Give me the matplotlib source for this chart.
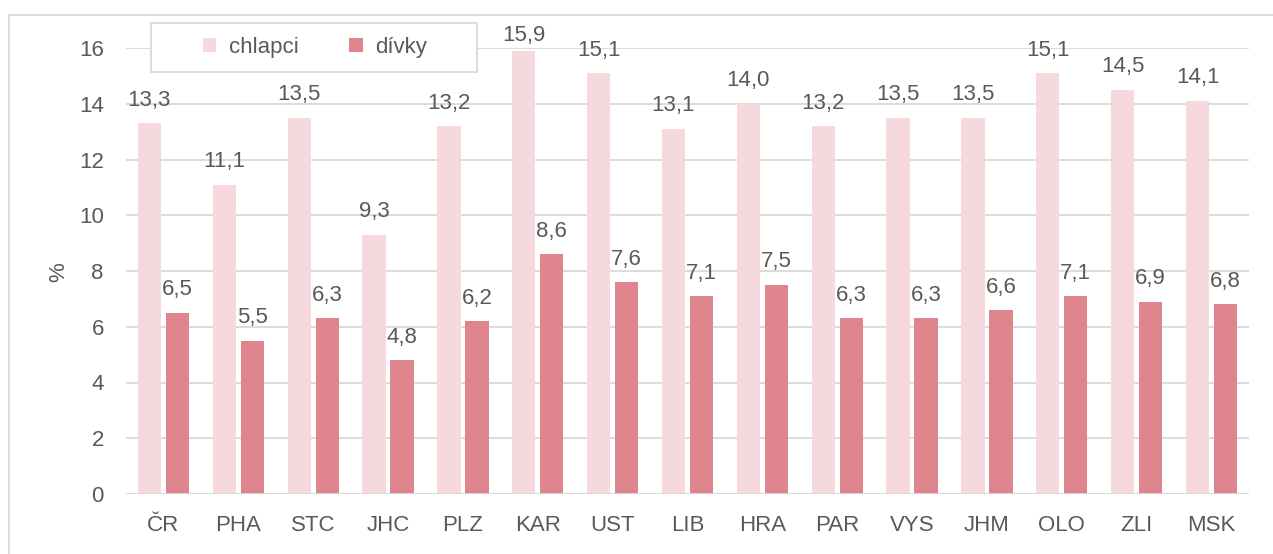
import matplotlib
matplotlib.use("Agg")
import matplotlib.pyplot as plt
import numpy as np
from matplotlib.lines import Line2D
from matplotlib.patches import Rectangle

categories = ["ČR", "PHA", "STC", "JHC", "PLZ", "KAR", "UST", "LIB", "HRA", "PAR", "VYS", "JHM", "OLO", "ZLI", "MSK"]
chlapci = [13.3, 11.1, 13.5, 9.3, 13.2, 15.9, 15.1, 13.1, 14.0, 13.2, 13.5, 13.5, 15.1, 14.5, 14.1]
divky = [6.5, 5.5, 6.3, 4.8, 6.2, 8.6, 7.6, 7.1, 7.5, 6.3, 6.3, 6.6, 7.1, 6.9, 6.8]
series_names = ["chlapci", "dívky"]
yticks = [0, 2, 4, 6, 8, 10, 12, 14, 16]

plt.rcParams['font.family'] = ['Liberation Sans', 'DejaVu Sans']
txt = "#595959"
c1 = "#F5D9DD"
c2 = "#DE848D"
grid = "#D9D9D9"
fs = 16

W, H = 1273, 554
fig = plt.figure(figsize=(W / 100, H / 100), dpi=100)
ax = fig.add_axes([126 / W, 1 - 494 / H, (1249 - 126) / W, (494 - 48) / H])

x = np.arange(len(categories))
bw = 0.31
off = 0.187
b1 = ax.bar(x - off, chlapci, bw, color=c1, label=series_names[0], zorder=3)
b2 = ax.bar(x + off, divky, bw, color=c2, label=series_names[1], zorder=3)

ax.set_xlim(-0.5, len(categories) - 0.5)
ax.set_ylim(0, 16)

labels = []
for bars, vals in ((b1, chlapci), (b2, divky)):
    for rect, v in zip(bars, vals):
        a = ax.annotate(f"{v:.1f}".replace(".", ","),
                        (rect.get_x() + rect.get_width() / 2, v),
                        xytext=(0, 9), textcoords="offset points",
                        ha="center", va="bottom", fontsize=fs, color=txt, zorder=5)
        labels.append(a)

ax.set_yticks(yticks)
ax.set_yticklabels([str(t) for t in yticks])
ax.set_xticks(x)
ax.set_xticklabels(categories)
ax.tick_params(axis="both", length=0, labelsize=fs, colors=txt)
ax.tick_params(axis="y", pad=16)
ax.tick_params(axis="x", pad=15)
ax.yaxis.grid(True, color=grid, linewidth=1.3, zorder=0)
ax.set_axisbelow(True)
for s in ax.spines.values():
    s.set_visible(False)
ax.axhline(0, color=grid, linewidth=1.3, zorder=4)

ax.set_ylabel("%", fontsize=fs, color=txt)
ax.yaxis.set_label_coords((69 - 126) / (1249 - 126), (494 - 272) / (494 - 48))

# keep data labels inside the chart area (like the source application does)
fig.canvas.draw()
r = fig.canvas.get_renderer()
top_limit = H - 25  # pixels from bottom
for a in labels:
    bb = a.get_window_extent(r)
    if bb.y1 > top_limit:
        shift_px = bb.y1 - top_limit
        a.xyann = (0, 9 - shift_px * 72 / fig.dpi)

# legend box
fig.add_artist(Rectangle((151 / W, 1 - 72 / H), (477 - 151) / W, (72 - 23) / H,
                         transform=fig.transFigure, facecolor="white",
                         edgecolor=grid, linewidth=1.3, zorder=9))
leg = fig.legend(handles=[b1, b2], labels=series_names, loc="center",
                 bbox_to_anchor=(315 / W, 1 - 47 / H),
                 ncol=2, frameon=False, fontsize=fs, labelcolor=txt,
                 handlelength=0.6, handleheight=0.6, handletextpad=0.55,
                 columnspacing=2.3, borderpad=0.0)
leg.set_zorder(10)

# outer chart border
fig.add_artist(Line2D([9 / W, 1.0], [1 - 15 / H, 1 - 15 / H], color=grid, linewidth=1.3, transform=fig.transFigure))
fig.add_artist(Line2D([9 / W, 9 / W], [0, 1 - 15 / H], color=grid, linewidth=1.3, transform=fig.transFigure))

fig.savefig("out.png", dpi=100, facecolor="white")
